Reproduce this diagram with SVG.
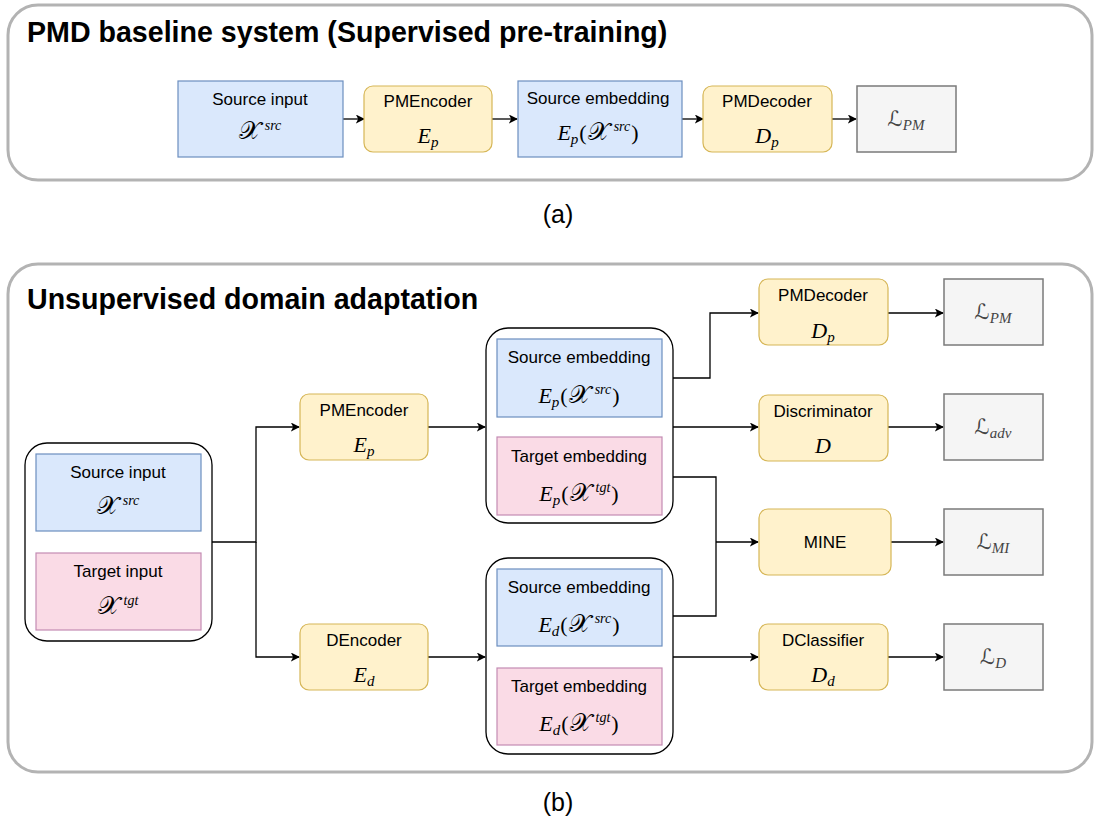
<svg xmlns="http://www.w3.org/2000/svg" width="1094" height="823" viewBox="0 0 1094 823">
<style>
.frame{fill:#ffffff;stroke:#b3b3b3;stroke-width:3}
.title{font-family:"Liberation Sans",Arial,sans-serif;font-weight:bold;font-size:28.6px;fill:#000}
.cap{font-family:"Liberation Sans",Arial,sans-serif;font-size:25px;fill:#000;text-anchor:middle}
.blue{fill:#dae8fc;stroke:#6c8ebf;stroke-width:1.2}
.pink{fill:#fadbe6;stroke:#c38bb3;stroke-width:1.2}
.yel{fill:#fff2cc;stroke:#d6b656;stroke-width:1.2}
.gray{fill:#f5f5f5;stroke:#7a7a7a;stroke-width:1.5}
.cont{fill:#ffffff;stroke:#000;stroke-width:1.3}
.lbl{font-family:"Liberation Sans",Arial,sans-serif;font-size:17px;fill:#000;text-anchor:middle}
.m{font-family:"Liberation Serif","DejaVu Serif",serif;font-style:italic;font-size:22px;fill:#000;text-anchor:middle}
.lm{font-family:"Liberation Serif","DejaVu Serif",serif;font-style:italic;font-size:21px;fill:#444;text-anchor:middle}
.s{font-style:normal;font-family:"DejaVu Sans","Noto Sans",serif}
.x{font-style:normal;font-family:"DejaVu Sans","Noto Sans",serif;font-size:25px}
.n{font-style:normal}
.c{fill:none;stroke:#000;stroke-width:1.3}
</style>
<defs>
<marker id="ah" viewBox="0 0 10 10" refX="9" refY="5" markerWidth="9" markerHeight="9" markerUnits="userSpaceOnUse" orient="auto">
<path d="M0,0 L10,5 L0,10 L2.5,5 Z" fill="#000"/>
</marker>
</defs>

<!-- frames -->
<g id="frameA">
<rect class="frame" x="8" y="5" width="1084" height="175" rx="30"/>
<text class="title" x="27" y="42">PMD baseline system (Supervised pre-training)</text>
</g>
<text class="cap" x="558" y="223">(a)</text>
<g id="frameB">
<rect class="frame" x="8" y="264" width="1084" height="508" rx="30"/>
<text class="title" x="27" y="309">Unsupervised domain adaptation</text>
</g>
<text class="cap" x="558" y="811">(b)</text>

<!-- connectors -->
<g id="connectors">
<path class="c" d="M343,119 H364" marker-end="url(#ah)"/>
<path class="c" d="M492,119 H517" marker-end="url(#ah)"/>
<path class="c" d="M682,119 H703" marker-end="url(#ah)"/>
<path class="c" d="M832,119 H856" marker-end="url(#ah)"/>

<path class="c" d="M212,542 H256 V427 H299" marker-end="url(#ah)"/>
<path class="c" d="M256,542 V657 H299" marker-end="url(#ah)"/>
<path class="c" d="M428,427 H485" marker-end="url(#ah)"/>
<path class="c" d="M428,657 H485" marker-end="url(#ah)"/>
<path class="c" d="M662,378 H710 V313 H758" marker-end="url(#ah)"/>
<path class="c" d="M673,427 H758" marker-end="url(#ah)"/>
<path class="c" d="M673,477 H716 V616 H673"/>
<path class="c" d="M716,542 H758" marker-end="url(#ah)"/>
<path class="c" d="M673,657 H758" marker-end="url(#ah)"/>
<path class="c" d="M888,313 H943" marker-end="url(#ah)"/>
<path class="c" d="M888,427 H943" marker-end="url(#ah)"/>
<path class="c" d="M891,542 H943" marker-end="url(#ah)"/>
<path class="c" d="M888,657 H943" marker-end="url(#ah)"/>
</g>

<!-- (a) nodes -->
<g id="a_src_input">
<rect class="blue" x="178" y="81" width="165" height="76"/>
<text class="lbl" x="260" y="105">Source input</text>
<text class="m" x="260" y="139"><tspan class="x">𝒳</tspan><tspan font-size="14" dx="4" dy="-9">src</tspan></text>
</g>
<g id="a_pmencoder">
<rect class="yel" x="364" y="86" width="128" height="66" rx="9"/>
<text class="lbl" x="428" y="107">PMEncoder</text>
<text class="m" x="428" y="143">E<tspan font-size="15" dy="4">p</tspan></text>
</g>
<g id="a_src_emb">
<rect class="blue" x="518" y="81" width="164" height="76"/>
<text class="lbl" x="598" y="104">Source embedding</text>
<text class="m" x="598" y="140">E<tspan font-size="15" dy="4">p</tspan><tspan class="n" dx="1" dy="-4">(</tspan><tspan class="x" dx="1">𝒳</tspan><tspan font-size="14" dx="4" dy="-9">src</tspan><tspan class="n" dx="1" dy="9">)</tspan></text>
</g>
<g id="a_pmdecoder">
<rect class="yel" x="703" y="86" width="129" height="66" rx="9"/>
<text class="lbl" x="767" y="107">PMDecoder</text>
<text class="m" x="767" y="143">D<tspan font-size="15" dy="4">p</tspan></text>
</g>
<g id="a_lpm">
<rect class="gray" x="857" y="86" width="99" height="66"/>
<text class="lm" x="906" y="126"><tspan class="s">ℒ</tspan><tspan font-size="15" dy="4">PM</tspan></text>
</g>

<!-- (b) nodes -->
<g id="b_inputs">
<rect class="cont" x="25" y="443" width="187" height="198" rx="22"/>
<rect class="blue" x="36" y="454" width="165" height="77"/>
<text class="lbl" x="118" y="478">Source input</text>
<text class="m" x="118" y="514"><tspan class="x">𝒳</tspan><tspan font-size="14" dx="4" dy="-9">src</tspan></text>
<rect class="pink" x="36" y="553" width="165" height="77"/>
<text class="lbl" x="118" y="577">Target input</text>
<text class="m" x="118" y="614"><tspan class="x">𝒳</tspan><tspan font-size="14" dx="4" dy="-9">tgt</tspan></text>
</g>
<g id="b_pmencoder">
<rect class="yel" x="300" y="394" width="128" height="66" rx="9"/>
<text class="lbl" x="364" y="416">PMEncoder</text>
<text class="m" x="364" y="452">E<tspan font-size="15" dy="4">p</tspan></text>
</g>
<g id="b_dencoder">
<rect class="yel" x="300" y="624" width="128" height="66" rx="9"/>
<text class="lbl" x="364" y="646">DEncoder</text>
<text class="m" x="364" y="682">E<tspan font-size="15" dy="4">d</tspan></text>
</g>
<g id="b_emb_p">
<rect class="cont" x="486" y="328" width="187" height="195" rx="22"/>
<rect class="blue" x="497" y="339" width="165" height="78"/>
<text class="lbl" x="579" y="363">Source embedding</text>
<text class="m" x="579" y="403">E<tspan font-size="15" dy="4">p</tspan><tspan class="n" dx="1" dy="-4">(</tspan><tspan class="x" dx="1">𝒳</tspan><tspan font-size="14" dx="4" dy="-9">src</tspan><tspan class="n" dx="1" dy="9">)</tspan></text>
<rect class="pink" x="497" y="437" width="165" height="78"/>
<text class="lbl" x="579" y="462">Target embedding</text>
<text class="m" x="579" y="501">E<tspan font-size="15" dy="4">p</tspan><tspan class="n" dx="1" dy="-4">(</tspan><tspan class="x" dx="1">𝒳</tspan><tspan font-size="14" dx="4" dy="-9">tgt</tspan><tspan class="n" dx="1" dy="9">)</tspan></text>
</g>
<g id="b_emb_d">
<rect class="cont" x="486" y="558" width="187" height="196" rx="22"/>
<rect class="blue" x="497" y="569" width="165" height="77"/>
<text class="lbl" x="579" y="593">Source embedding</text>
<text class="m" x="579" y="632">E<tspan font-size="15" dy="4">d</tspan><tspan class="n" dx="1" dy="-4">(</tspan><tspan class="x" dx="1">𝒳</tspan><tspan font-size="14" dx="4" dy="-9">src</tspan><tspan class="n" dx="1" dy="9">)</tspan></text>
<rect class="pink" x="497" y="668" width="165" height="77"/>
<text class="lbl" x="579" y="692">Target embedding</text>
<text class="m" x="579" y="731">E<tspan font-size="15" dy="4">d</tspan><tspan class="n" dx="1" dy="-4">(</tspan><tspan class="x" dx="1">𝒳</tspan><tspan font-size="14" dx="4" dy="-9">tgt</tspan><tspan class="n" dx="1" dy="9">)</tspan></text>
</g>
<g id="b_pmdecoder">
<rect class="yel" x="759" y="279" width="129" height="66" rx="9"/>
<text class="lbl" x="823" y="301">PMDecoder</text>
<text class="m" x="823" y="338">D<tspan font-size="15" dy="4">p</tspan></text>
</g>
<g id="b_disc">
<rect class="yel" x="759" y="395" width="129" height="66" rx="9"/>
<text class="lbl" x="823" y="417">Discriminator</text>
<text class="m" x="823" y="453">D</text>
</g>
<g id="b_mine">
<rect class="yel" x="759" y="509" width="132" height="66" rx="9"/>
<text class="lbl" x="825" y="548">MINE</text>
</g>
<g id="b_dclass">
<rect class="yel" x="759" y="624" width="129" height="66" rx="9"/>
<text class="lbl" x="823" y="646">DClassifier</text>
<text class="m" x="823" y="682">D<tspan font-size="15" dy="4">d</tspan></text>
</g>
<g id="b_lpm">
<rect class="gray" x="944" y="279" width="99" height="66"/>
<text class="lm" x="993" y="319"><tspan class="s">ℒ</tspan><tspan font-size="15" dy="4">PM</tspan></text>
</g>
<g id="b_ladv">
<rect class="gray" x="944" y="394" width="99" height="66"/>
<text class="lm" x="993" y="434"><tspan class="s">ℒ</tspan><tspan font-size="15" dy="4">adv</tspan></text>
</g>
<g id="b_lmi">
<rect class="gray" x="944" y="509" width="99" height="66"/>
<text class="lm" x="993" y="549"><tspan class="s">ℒ</tspan><tspan font-size="15" dy="4">MI</tspan></text>
</g>
<g id="b_ld">
<rect class="gray" x="944" y="624" width="99" height="66"/>
<text class="lm" x="993" y="664"><tspan class="s">ℒ</tspan><tspan font-size="15" dy="4">D</tspan></text>
</g>
</svg>
